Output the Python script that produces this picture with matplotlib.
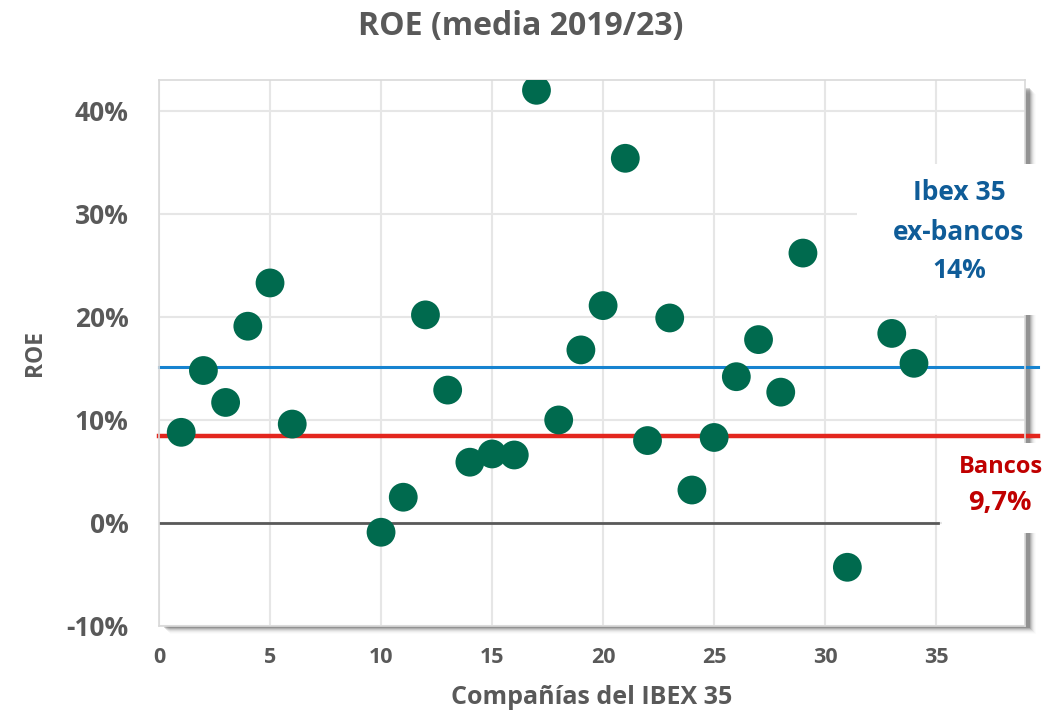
import numpy as np
import matplotlib.pyplot as plt
from matplotlib.patches import Rectangle

plt.rcParams['font.family'] = ['Open Sans', 'DejaVu Sans']
plt.rcParams['font.weight'] = 'bold'
plt.rcParams['axes.labelweight'] = 'bold'

# Company index and average ROE 2019/23 (%)
companies = [1, 2, 3, 4, 5, 6, 10, 11, 12, 13, 14, 15, 16, 17, 18, 19, 20,
             21, 22, 23, 24, 25, 26, 27, 28, 29, 31, 33, 34]
roe = [8.8, 14.8, 11.7, 19.1, 23.3, 9.6, -0.9, 2.5, 20.2, 12.9, 5.9, 6.7, 6.6,
       42.0, 10.0, 16.8, 21.1, 35.4, 8.0, 19.9, 3.2, 8.3, 14.2, 17.8, 12.7,
       26.2, -4.3, 18.4, 15.5]

# reference lines (as drawn)
ibex_exbank_line = 15.15
bank_line = 8.45
zero_line_end = 35.1

y_ticks = [-10, 0, 10, 20, 30, 40]
y_ticklabels = ['-10%', '0%', '10%', '20%', '30%', '40%']
x_ticks = [0, 5, 10, 15, 20, 25, 30, 35]

gray = '#595959'
W, H = 1058, 716
fig = plt.figure(figsize=(W / 100, H / 100), dpi=100)
ax = fig.add_axes([159 / W, 1 - 626 / H, (1025 - 159) / W, (626 - 80) / H])

# soft drop shadow around the plot area
for i, a in enumerate([0.16, 0.12, 0.09, 0.06, 0.04, 0.025, 0.015]):
    off = 1.5 + i
    fig.patches.append(Rectangle(((159 + off + 3) / W, (1 - 626 / H) - off / H),
                                 (1025 - 159) / W, (626 - 86) / H,
                                 transform=fig.transFigure, color='black',
                                 alpha=a, lw=0, zorder=-1))

ax.set_xlim(0, 39)
ax.set_ylim(-10, 43)
ax.set_xticks(x_ticks)
ax.set_yticks(y_ticks)
ax.set_yticklabels(y_ticklabels)
ax.grid(True, color='#E6E6E6', lw=1.5)
ax.set_axisbelow(True)
for s in ax.spines.values():
    s.set_color('#D9D9D9')
    s.set_linewidth(1.2)
ax.tick_params(length=0, colors=gray)
ax.tick_params(axis='y', labelsize=19, pad=22)
ax.tick_params(axis='x', labelsize=15.5, pad=15)

ax.plot([0, zero_line_end], [0, 0], color=gray, lw=2, zorder=2)
ax.plot([0, 39.6], [ibex_exbank_line] * 2, color='#1683D0', lw=2.2,
        clip_on=False, zorder=2)
ax.plot([0, 39.6], [bank_line] * 2, color='#E3261E', lw=3.2,
        clip_on=False, zorder=2)
ax.scatter(companies, roe, s=430, color='#006A4E', edgecolors='none', zorder=3)

ax.set_xlabel('Compañías del IBEX 35', fontsize=18, color=gray,
              fontweight='bold', labelpad=12)
ax.set_ylabel('ROE', fontsize=16.5, color=gray, fontweight='bold', labelpad=14)
fig.text(521 / W, 1 - 27 / H, 'ROE (media 2019/23)', fontsize=23, color=gray,
         fontweight='bold', ha='center', va='center')

# white label boxes
ax.add_patch(Rectangle((857 / W, 1 - 315 / H), (W - 857) / W, 151 / H,
                       transform=fig.transFigure, color='white', lw=0,
                       clip_on=False, zorder=5))
ax.add_patch(Rectangle((942 / W, 1 - 533 / H), (W - 942) / W, 90 / H,
                       transform=fig.transFigure, color='white', lw=0,
                       clip_on=False, zorder=5))

blue = '#0F5C98'
red = '#C00000'
for txt, yy in [('Ibex 35', 193), ('ex-bancos', 232), ('14%', 270)]:
    fig.text(959 / W, 1 - yy / H, txt, fontsize=19, color=blue,
             fontweight='bold', ha='center', va='center', zorder=6)
fig.text(1001 / W, 1 - 467 / H, 'Bancos', fontsize=17, color=red,
         fontweight='bold', ha='center', va='center', zorder=6)
fig.text(1000 / W, 1 - 503 / H, '9,7%', fontsize=19.5, color=red,
         fontweight='bold', ha='center', va='center', zorder=6)

fig.savefig('out.png', dpi=100)
